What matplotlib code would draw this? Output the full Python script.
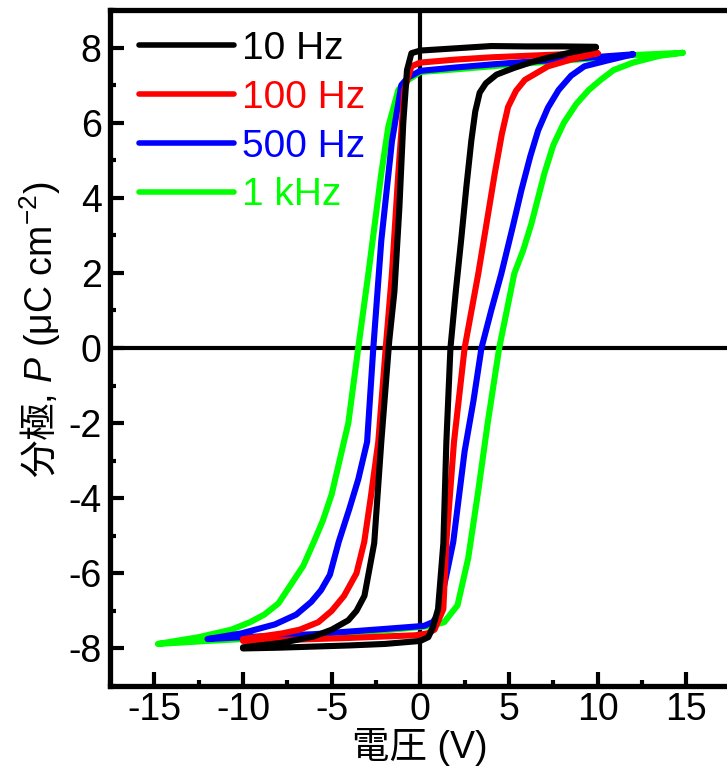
import matplotlib
matplotlib.use("Agg")
import matplotlib.pyplot as plt
import numpy as np
from matplotlib.ticker import MultipleLocator

plt.rcParams['font.family'] = ['Liberation Sans', 'Noto Sans CJK JP']
plt.rcParams['mathtext.fontset'] = 'custom'
plt.rcParams['mathtext.rm'] = 'Noto Sans CJK JP'
plt.rcParams['mathtext.it'] = 'Liberation Sans:italic'
plt.rcParams['mathtext.sf'] = 'Liberation Sans'
plt.rcParams['axes.unicode_minus'] = False

labels = ['10 Hz', '100 Hz', '500 Hz', '1 kHz']
colors = ['#000000', '#ff0000', '#0000ff', '#00ff00']

# 10 Hz
v10_up = [9.9, 8.0, 6.0, 4.0, 2.0, 0.0, -0.5, -0.75, -0.96, -1.18, -1.46, -1.75, -2.2, -2.6, -3.15, -3.6, -4.06, -5.0, -6.0, -7.8, -10.0]
p10_up = [8.02, 8.03, 8.03, 8.04, 7.98, 7.92, 7.85, 7.4, 6.0, 3.74, 1.5, 0.2, -2.5, -5.2, -6.6, -7.0, -7.25, -7.5, -7.68, -7.85, -7.97]
v10_lo = [-10.0, -8.0, -6.0, -4.0, -2.0, 0.0, 0.45, 0.7, 1.0, 1.3, 1.47, 1.7, 2.0, 2.3, 2.6, 2.88, 3.1, 3.35, 3.7, 4.3, 5.3, 6.2, 7.2, 8.5, 9.9]
p10_lo = [-8.0, -7.98, -7.95, -7.92, -7.88, -7.8, -7.7, -7.45, -6.95, -5.2, -2.5, 0.0, 1.5, 2.86, 4.3, 5.53, 6.3, 6.8, 7.05, 7.28, 7.46, 7.6, 7.73, 7.87, 8.0]

# 100 Hz
v100_up = [10.0, 8.0, 6.0, 4.0, 2.0, 0.0, -0.5, -0.9, -1.24, -1.6, -1.95, -2.37, -2.8, -3.16, -3.6, -4.3, -5.0, -5.75, -6.8, -7.8, -10.0]
p100_up = [7.85, 7.82, 7.78, 7.74, 7.68, 7.6, 7.5, 6.87, 4.65, 1.98, 0.0, -2.5, -4.0, -5.16, -6.0, -6.6, -7.0, -7.3, -7.5, -7.6, -7.75]
v100_lo = [-10.0, -8.0, -6.0, -4.0, -2.0, -0.3, 0.4, 0.8, 1.3, 1.47, 1.9, 2.5, 3.27, 3.8, 4.2, 4.6, 4.95, 5.4, 5.9, 7.2, 8.5, 10.0]
p100_lo = [-7.8, -7.78, -7.75, -7.72, -7.68, -7.65, -7.6, -7.5, -6.95, -5.16, -2.5, 0.0, 1.98, 3.5, 4.65, 5.7, 6.42, 6.85, 7.14, 7.5, 7.68, 7.85]

# 500 Hz
v500_up = [12.0, 10.0, 8.0, 6.0, 4.0, 2.0, 0.0, -0.7, -1.07, -1.6, -2.2, -2.65, -3.0, -3.5, -4.0, -4.6, -5.1, -5.6, -6.15, -7.0, -8.2, -10.1, -12.0]
p500_up = [7.82, 7.75, 7.68, 7.62, 7.55, 7.47, 7.38, 7.2, 7.0, 5.5, 2.86, 0.0, -2.5, -3.5, -4.28, -5.16, -6.04, -6.45, -6.76, -7.1, -7.36, -7.6, -7.75]
v500_lo = [-12.0, -10.0, -8.0, -6.0, -4.0, -2.0, 0.2, 0.7, 1.0, 1.47, 1.86, 2.5, 3.0, 3.45, 4.0, 4.57, 5.2, 5.7, 6.2, 6.65, 7.2, 7.8, 8.5, 9.25, 10.5, 12.0]
p500_lo = [-7.75, -7.7, -7.66, -7.62, -7.55, -7.48, -7.4, -7.3, -7.1, -6.05, -5.16, -2.75, -1.4, 0.0, 1.0, 1.98, 3.2, 4.2, 5.1, 5.8, 6.4, 6.87, 7.25, 7.5, 7.65, 7.82]

# 1 kHz
v1k_up = [14.8, 12.0, 10.0, 8.0, 6.0, 4.0, 2.0, 0.0, -0.8, -1.24, -1.8, -2.2, -2.93, -3.5, -4.06, -5.0, -5.5, -6.0, -6.6, -7.3, -8.0, -8.8, -9.6, -10.66, -12.5, -14.8]
p1k_up = [7.86, 7.8, 7.72, 7.65, 7.58, 7.5, 7.42, 7.35, 7.1, 6.87, 5.9, 4.65, 1.98, 0.0, -2.0, -3.9, -4.6, -5.16, -5.8, -6.3, -6.8, -7.1, -7.3, -7.5, -7.7, -7.88]
v1k_lo = [-14.8, -12.0, -10.0, -8.0, -6.0, -4.0, -1.6, 0.6, 1.35, 2.1, 2.7, 3.27, 3.8, 4.45, 5.3, 5.8, 6.26, 7.0, 7.5, 8.1, 8.8, 9.5, 10.2, 10.9, 12.0, 13.5, 14.8]
p1k_lo = [-7.88, -7.8, -7.75, -7.7, -7.65, -7.58, -7.5, -7.4, -7.3, -6.85, -5.6, -3.8, -2.0, 0.0, 1.98, 2.6, 3.3, 4.65, 5.4, 6.0, 6.5, 6.87, 7.15, 7.4, 7.6, 7.78, 7.86]

series = [
    (v10_up, p10_up, v10_lo, p10_lo),
    (v100_up, p100_up, v100_lo, p100_lo),
    (v500_up, p500_up, v500_lo, p500_lo),
    (v1k_up, p1k_up, v1k_lo, p1k_lo),
]

xticks = [-15, -10, -5, 0, 5, 10, 15]
yticks = [-8, -6, -4, -2, 0, 2, 4, 6, 8]

fig = plt.figure(figsize=(7.27, 7.70), dpi=100)
ax = fig.add_axes([110/727, (770-686)/770, 620.6/727, 676/770])

ax.axhline(0, color='black', lw=3.0, zorder=1)
ax.axvline(0, color='black', lw=3.0, zorder=1)

handles = []
for i in range(len(series)):
    vu, pu, vl, pl = series[i]
    v = list(vu) + list(vl)
    p = list(pu) + list(pl)
    h, = ax.plot(v, p, color=colors[i], lw=4.4, label=labels[i],
                 solid_joinstyle='round', solid_capstyle='round', zorder=10 - i)
    handles.append(h)

ax.set_xlim(-17.5, 17.5)
ax.set_ylim(-9, 9)
ax.set_xticks(xticks)
ax.set_yticks(yticks)
ax.xaxis.set_minor_locator(MultipleLocator(2.5))
ax.yaxis.set_minor_locator(MultipleLocator(1))
ax.tick_params(which='both', direction='in', top=False, right=False, labelsize=27)
ax.tick_params(which='major', length=10, width=3)
ax.tick_params(which='minor', length=4.5, width=3)
ax.tick_params(axis='x', pad=4)
ax.tick_params(axis='y', pad=6)
for s in ax.spines.values():
    s.set_linewidth(3.8)

ax.set_xlabel('電圧 (V)', fontsize=27, labelpad=0)
ax.set_ylabel('$\\mathrm{分極}$, $\\mathit{P}$ (μC cm$^{\\mathsf{-2}}$)', fontsize=27, labelpad=4)
ax.yaxis.label.set_y(0.527)

leg = ax.legend(handles=handles, loc='upper left', bbox_to_anchor=(0.046, 0.969),
                frameon=False, fontsize=28, labelcolor='linecolor',
                handlelength=2.45, handletextpad=0.22, labelspacing=0.33,
                borderpad=0, borderaxespad=0)
for lh in leg.get_lines():
    lh.set_linewidth(4)

fig.savefig('out.png', dpi=100)
